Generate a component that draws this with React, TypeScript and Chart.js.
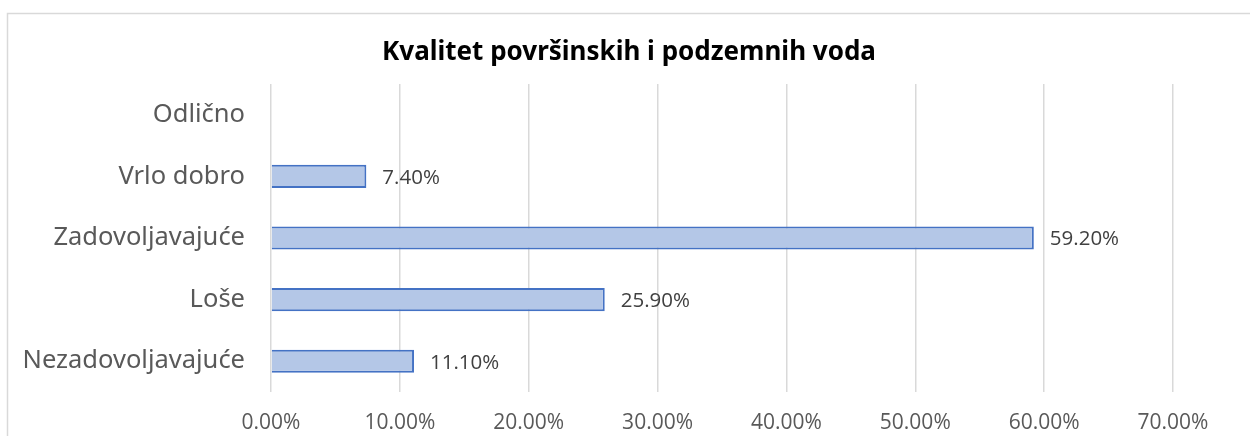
import React, { useEffect, useRef } from "react";
import { Chart, registerables } from "chart.js";

Chart.register(...registerables);

const categories = ["Odlično", "Vrlo dobro", "Zadovoljavajuće", "Loše", "Nezadovoljavajuće"];
const values: (number | null)[] = [null, 7.4, 59.2, 25.9, 11.1];
const titleText = "Kvalitet površinskih i podzemnih voda";

const fmt = (v: number) => v.toFixed(2) + "%";

const borderPlugin = {
  id: "outerBorder",
  beforeDraw(chart: any) {
    const ctx = chart.ctx;
    ctx.save();
    ctx.fillStyle = "#ffffff";
    ctx.fillRect(0, 0, chart.width, chart.height);
    ctx.strokeStyle = "#d9d9d9";
    ctx.lineWidth = 1.5;
    ctx.strokeRect(7.5, 13.5, 1400, 600);
    ctx.restore();
  },
  afterDraw(chart: any) {
    const ctx = chart.ctx;
    ctx.save();
    ctx.font = "bold 26px 'Noto Sans'";
    ctx.fillStyle = "#000000";
    ctx.textAlign = "center";
    ctx.textBaseline = "alphabetic";
    ctx.fillText(titleText, 629, 60);
    ctx.restore();
  },
};

const labelPlugin = {
  id: "barLabels",
  afterDatasetsDraw(chart: any) {
    const ctx = chart.ctx;
    const meta = chart.getDatasetMeta(0);
    ctx.save();
    ctx.font = "20.5px 'Open Sans'";
    ctx.fillStyle = "#404040";
    ctx.textAlign = "left";
    ctx.textBaseline = "middle";
    meta.data.forEach((el: any, i: number) => {
      const v = values[i];
      if (v === null || v === undefined) return;
      ctx.fillText(fmt(v), el.x + 16, el.y + 1.5);
    });
    ctx.restore();
  },
};

export default function App() {
  const ref = useRef<HTMLCanvasElement>(null);
  useEffect(() => {
    if (!ref.current) return;
    const chart = new Chart(ref.current, {
      type: "bar",
      data: {
        labels: categories,
        datasets: [
          {
            data: values,
            backgroundColor: "#b4c7e7",
            borderColor: "#4472c4",
            borderWidth: 2,
            barPercentage: 0.375,
            categoryPercentage: 1,
          },
        ],
      },
      options: {
        indexAxis: "y",
        animation: false,
        responsive: false,
        maintainAspectRatio: false,
        layout: { padding: { left: 0, right: 77, top: 84, bottom: 0 } },
        plugins: {
          legend: { display: false },
          tooltip: { enabled: false },
          title: { display: false },
        },
        scales: {
          x: {
            min: 0,
            max: 70,
            ticks: {
              stepSize: 10,
              callback: (v: any) => fmt(Number(v)),
              color: "#595959",
              font: { family: "'Open Sans'", size: 21 },
              padding: 18,
            },
            grid: { color: "#d9d9d9", lineWidth: 1.5, drawTicks: false },
            border: { display: false },
            afterFit: (s: any) => {
              s.height = 44;
            },
          },
          y: {
            ticks: {
              color: "#595959",
              font: { family: "'Noto Sans'", size: 25.5 },
              padding: 26,
            },
            grid: { display: false, drawTicks: false },
            border: { display: false },
            afterFit: (s: any) => {
              s.width = 271;
            },
          },
        },
      },
      plugins: [borderPlugin, labelPlugin],
    });
    return () => chart.destroy();
  }, []);
  return (
    <canvas
      ref={ref}
      width={1250}
      height={436}
      style={{ position: "fixed", left: 0, top: 0, width: 1250, height: 436 }}
    />
  );
}
